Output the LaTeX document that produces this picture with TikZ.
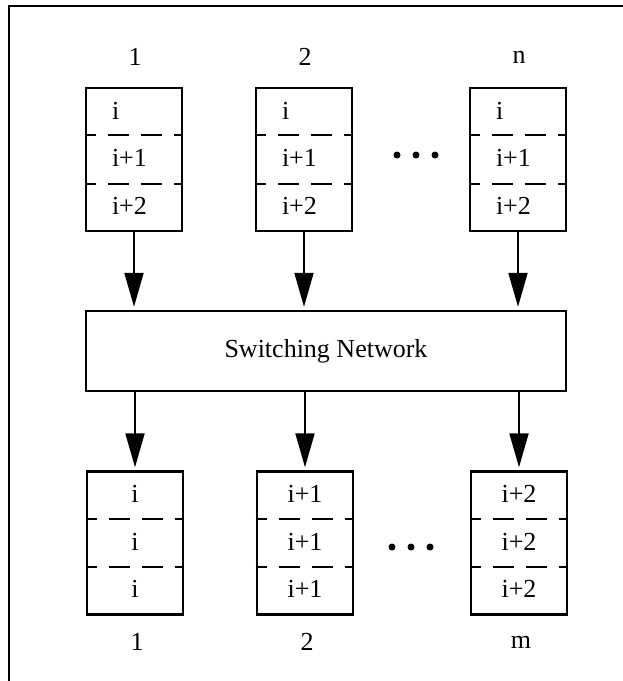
\documentclass[tikz,border=0pt]{standalone}
\usepackage{fontspec}
\setmainfont{Liberation Serif}
\usetikzlibrary{arrows.meta,calc}
\begin{document}
\begin{tikzpicture}[x=1pt,y=-1pt,
  line width=2.4pt,
  buffer/.style={draw, rectangle, minimum width=96pt, minimum height=143pt, inner sep=0pt},
  cell/.style={inner sep=0pt, font=\fontsize{26}{30}\selectfont},
  lbl/.style={inner sep=0pt, font=\fontsize{26}{30}\selectfont},
  sep/.style={dash pattern=on 21pt off 12pt, dash phase=10pt},
  flow/.style={line width=2pt, -{Triangle[length=34pt,width=19pt]}, shorten >=3pt},
  dot/.style={circle, fill, inner sep=0pt, minimum size=7pt}]
\useasboundingbox (0,0) rectangle (623,681);
% frame edges
\coordinate (fTL) at (9,6);
\coordinate (fTR) at (623,6);
\coordinate (fBL) at (9,681);
\draw (fTR) -- (fTL) -- (fBL);

% input buffers
\foreach \nm/\cx/\lab in {in1/134/1, in2/304/2, inn/518/n}{
  \node[buffer] (\nm) at (\cx,159.5) {};
  \node[lbl] (\nm-l) at (\cx+1,57) {\lab};
  \draw[sep] ($(\nm.north west)!0.333!(\nm.south west)$) -- ($(\nm.north east)!0.333!(\nm.south east)$);
  \draw[sep] ($(\nm.north west)!0.667!(\nm.south west)$) -- ($(\nm.north east)!0.667!(\nm.south east)$);
  \node[cell, anchor=west] (\nm-a) at ($(\nm.north west)+(26,24)$) {i};
  \node[cell, anchor=west] (\nm-b) at ($(\nm.north west)+(26,71.5)$) {i+1};
  \node[cell, anchor=west] (\nm-c) at ($(\nm.north west)+(26,119)$) {i+2};
}

% switching network
\node[draw, rectangle, minimum width=480pt, minimum height=80pt, inner sep=0pt,
      font=\fontsize{26}{30}\selectfont] (sw) at (326,351) {Switching Network};

% output buffers
\foreach \nm/\cx/\lab/\val in {out1/135/1/i, out2/305/2/i+1, outm/519/m/i+2}{
  \node[buffer] (\nm) at (\cx,543) {};
  \node[lbl] (\nm-l) at (\cx+2,642) {\lab};
  \draw[sep] ($(\nm.north west)!0.333!(\nm.south west)$) -- ($(\nm.north east)!0.333!(\nm.south east)$);
  \draw[sep] ($(\nm.north west)!0.667!(\nm.south west)$) -- ($(\nm.north east)!0.667!(\nm.south east)$);
  \node[cell] (\nm-a) at ($(\nm.north)+(0,24)$) {\val};
  \node[cell] (\nm-b) at ($(\nm.north)+(0,71.5)$) {\val};
  \node[cell] (\nm-c) at ($(\nm.north)+(0,119)$) {\val};
}

% connectors
\foreach \nm in {in1, in2, inn}{
  \draw[flow] (\nm.south) -- (\nm.south |- sw.north);
}
\foreach \nm in {out1, out2, outm}{
  \draw[flow] (sw.south -| \nm.north) -- (\nm.north);
}

% ellipses between buffers
\foreach \x in {397,416,435}{ \node[dot] at (\x,155) {}; }
\foreach \x in {392,411,430}{ \node[dot] at (\x,547) {}; }
\end{tikzpicture}
\end{document}
